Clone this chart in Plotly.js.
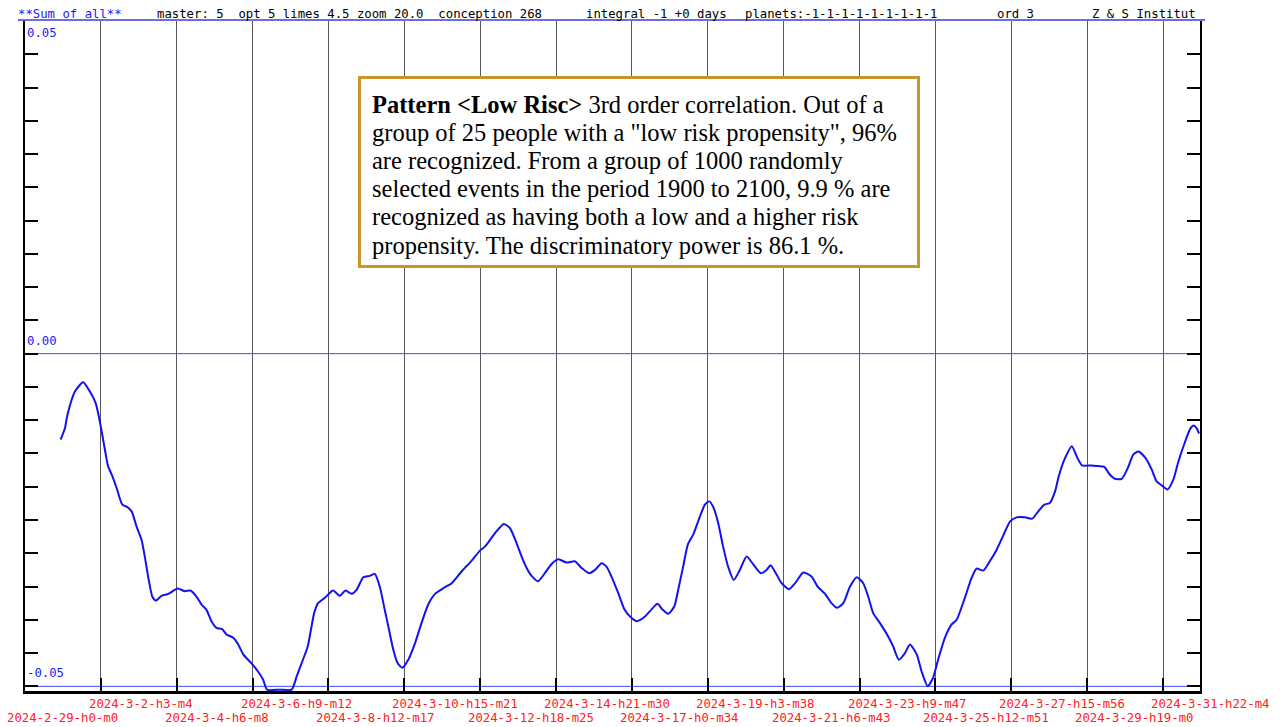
<!DOCTYPE html>
<html>
<head>
<meta charset="utf-8">
<script src="https://cdn.plot.ly/plotly-3.0.1.min.js"></script>
<style>
  html, body { margin: 0; padding: 0; background: #ffffff; }
  #chart { width: 1280px; height: 727px; }
</style>
</head>
<body>
<div id="chart"></div>
<script>
// ---------------- data ----------------
// x: days since 2024-02-29 00:00, y: sum of all
const days = [
  1.00,1.12,1.19,1.40,1.63,1.82,1.98,2.07,2.15,2.24,
  2.33,2.45,2.57,2.73,2.85,2.99,3.13,3.27,3.36,3.47,
  3.57,3.67,3.83,4.02,4.28,4.48,4.64,4.81,4.95,5.09,
  5.23,5.37,5.53,5.65,5.84,5.98,6.12,6.36,6.54,6.68,
  6.79,7.14,7.48,7.62,7.76,7.93,8.02,8.11,8.22,8.41,
  8.64,8.83,8.99,9.16,9.30,9.49,9.67,9.81,9.95,10.09,
  10.19,10.33,10.45,10.58,10.75,10.94,11.12,11.31,11.50,11.78,
  11.97,12.25,12.53,12.76,12.90,13.18,13.43,13.60,13.79,13.93,
  14.07,14.21,14.39,14.58,14.77,14.96,15.19,15.42,15.61,15.82,
  15.99,16.17,16.31,16.45,16.64,16.81,
  16.97,17.16,17.39,17.58,17.74,17.87,18.04,18.21,18.32,18.46,
  18.59,18.74,18.88,19.07,19.19,19.30,19.44,19.58,19.72,19.88,
  20.05,20.24,20.43,20.64,20.80,20.91,21.08,21.22,21.43,21.60,
  21.83,22.06,22.23,22.44,22.62,22.78,22.95,23.14,23.33,23.51,
  23.65,23.79,23.98,24.21,24.35,24.51,24.68,24.82,25.01,25.15,
  25.32,25.47,25.61,25.80,25.99,26.13,26.36,26.55,26.69,26.88,
  27.06,27.25,27.44,27.63,27.81,28.05,28.25,28.42,28.59,28.75,
  28.89,29.00,29.17,29.36,29.52,29.65,29.92,30.10,30.27,30.43,
  30.57,30.76,30.93,31.08,31.23,31.43,31.60,31.74,31.88,32.05,
  32.21,32.35,32.54,32.68,32.78,32.86,32.93
];
const sumOfAll = [
  -0.0129,-0.0112,-0.0092,-0.0057,-0.0043,-0.0057,-0.0074,-0.0094,-0.0117,-0.0144,
  -0.0169,-0.0184,-0.0202,-0.0227,-0.0230,-0.0237,-0.0260,-0.0280,-0.0305,-0.0340,
  -0.0365,-0.0371,-0.0364,-0.0361,-0.0353,-0.0357,-0.0356,-0.0365,-0.0377,-0.0385,
  -0.0402,-0.0412,-0.0414,-0.0422,-0.0427,-0.0437,-0.0452,-0.0466,-0.0478,-0.0490,
  -0.0505,-0.0505,-0.0505,-0.0485,-0.0465,-0.0440,-0.0415,-0.0390,-0.0375,-0.0367,
  -0.0356,-0.0364,-0.0356,-0.0361,-0.0355,-0.0336,-0.0334,-0.0331,-0.0350,-0.0385,
  -0.0410,-0.0445,-0.0465,-0.0472,-0.0460,-0.0435,-0.0405,-0.0377,-0.0361,-0.0351,
  -0.0345,-0.0327,-0.0311,-0.0296,-0.0290,-0.0270,-0.0256,-0.0262,-0.0285,-0.0305,
  -0.0322,-0.0334,-0.0342,-0.0330,-0.0316,-0.0309,-0.0314,-0.0312,-0.0322,-0.0330,
  -0.0325,-0.0315,-0.0320,-0.0335,-0.0360,-0.0384,
  -0.0395,-0.0402,-0.0395,-0.0384,-0.0376,-0.0384,-0.0391,-0.0380,-0.0355,-0.0320,
  -0.0287,-0.0272,-0.0252,-0.0227,-0.0222,-0.0230,-0.0254,-0.0290,-0.0320,-0.0340,
  -0.0325,-0.0305,-0.0317,-0.0330,-0.0325,-0.0318,-0.0332,-0.0345,-0.0354,-0.0345,
  -0.0329,-0.0335,-0.0350,-0.0361,-0.0375,-0.0382,-0.0375,-0.0350,-0.0336,-0.0345,
  -0.0365,-0.0390,-0.0405,-0.0425,-0.0440,-0.0460,-0.0450,-0.0437,-0.0452,-0.0478,
  -0.0500,-0.0487,-0.0460,-0.0427,-0.0407,-0.0400,-0.0367,-0.0337,-0.0323,-0.0326,
  -0.0312,-0.0295,-0.0273,-0.0252,-0.0246,-0.0246,-0.0248,-0.0237,-0.0227,-0.0224,
  -0.0207,-0.0183,-0.0157,-0.0139,-0.0157,-0.0168,-0.0168,-0.0169,-0.0170,-0.0182,
  -0.0188,-0.0188,-0.0172,-0.0152,-0.0147,-0.0157,-0.0174,-0.0192,-0.0198,-0.0204,
  -0.0189,-0.0162,-0.0132,-0.0113,-0.0108,-0.0112,-0.0120
];

const tickLabels = [
  '2024-2-29-h0-m0','2024-3-2-h3-m4','2024-3-4-h6-m8','2024-3-6-h9-m12',
  '2024-3-8-h12-m17','2024-3-10-h15-m21','2024-3-12-h18-m25','2024-3-14-h21-m30',
  '2024-3-17-h0-m34','2024-3-19-h3-m38','2024-3-21-h6-m43','2024-3-23-h9-m47',
  '2024-3-25-h12-m51','2024-3-27-h15-m56','2024-3-29-h19-m0','2024-3-31-h22-m4'
];
const yLabelValues = [0.05, 0.00, -0.05];
const yLabelTexts = ['0.05', '0.00', '-0.05'];
const refLineValues = [0.00, -0.05];

const headerTexts = [
  '**Sum of all**',
  'master: 5\u00a0\u00a0opt 5 limes 4.5 zoom 20.0\u00a0\u00a0conception 268',
  'integral -1 +0 days',
  'planets:-1-1-1-1-1-1-1-1-1',
  'ord 3',
  'Z & S Institut'
];
const noteLines = [
  '<b>Pattern &lt;Low Risc&gt;</b> 3rd order correlation. Out of a',
  'group of 25 people with a "low risk propensity", 96%',
  'are recognized. From a group of 1000 randomly',
  'selected events in the period 1900 to 2100, 9.9 % are',
  'recognized as having both a low and a higher risk',
  'propensity. The discriminatory power is 86.1 %.'
];

// ---------------- derived ----------------
const START = Date.UTC(2024, 1, 29, 0, 0);
function labelToDays(s) {
  const m = s.match(/^(\d+)-(\d+)-(\d+)-h(\d+)-m(\d+)$/);
  const t = Date.UTC(+m[1], +m[2] - 1, +m[3], +m[4], +m[5]);
  return (t - START) / 86400000;
}
const tickPos = tickLabels.map(labelToDays);

// layout geometry (pixels)
const W = 1280, H = 727;
const M = { l: 25, r: 80, t: 21, b: 36 };
const PW = W - M.l - M.r;
const PH = H - M.t - M.b;
const px2paperX = px => (px - M.l) / PW;
const px2paperY = py => (H - M.b - py) / PH;

const mono = 'DejaVu Sans Mono, monospace';
const annotations = [];

// x tick labels, two alternating rows, left aligned just before the tick
tickLabels.forEach((t, i) => {
  annotations.push({
    text: t, xref: 'x', x: tickPos[i], xanchor: 'left', xshift: i === 0 ? -20 : -14,
    yref: 'paper', y: 0, yanchor: 'middle', yshift: (i % 2 === 0) ? -27 : -13,
    showarrow: false, font: { family: mono, size: 12.3, color: '#ff2020' }
  });
});

// y labels
yLabelValues.forEach((v, i) => {
  annotations.push({
    text: yLabelTexts[i], xref: 'paper', x: 0, xanchor: 'left', xshift: 0,
    yref: 'y', y: v, yanchor: 'middle', yshift: (i === 0) ? -12 : 13,
    showarrow: false, font: { family: mono, size: 12.3, color: '#1a1aff' }
  });
});

// header
const headerX = [18, 157, 586, 745, 997, 1092];
headerTexts.forEach((t, i) => {
  annotations.push({
    text: t, xref: 'paper', x: px2paperX(headerX[i] - 2), xanchor: 'left',
    yref: 'paper', y: 1, yanchor: 'middle', yshift: 7,
    showarrow: false,
    font: { family: mono, size: 12.3, color: i === 0 ? '#1a1aff' : '#000000' }
  });
});

// note box: one annotation per line, frame drawn as a rectangle
const NOTE = { left: 358, right: 920, top: 76, bottom: 268, textX: 372, line0: 104, lineStep: 28.2 };
noteLines.forEach((t, i) => {
  annotations.push({
    text: t, xref: 'paper', x: px2paperX(NOTE.textX - 2), xanchor: 'left',
    yref: 'paper', y: px2paperY(NOTE.line0 + i * NOTE.lineStep), yanchor: 'middle',
    showarrow: false,
    font: { family: 'Liberation Serif, Times New Roman, serif', size: 24.5, color: '#000000' }
  });
});

const trace = {
  x: days, y: sumOfAll, type: 'scatter', mode: 'lines',
  line: { color: '#1212f0', width: 2, shape: 'spline', smoothing: 0.6 },
  hoverinfo: 'skip', showlegend: false
};

const shapes = [
  {
    type: 'line', xref: 'paper', yref: 'paper',
    x0: px2paperX(18), x1: px2paperX(1205), y0: px2paperY(20), y1: px2paperY(20),
    line: { color: '#3c3cd0', width: 1.5 }, layer: 'above'
  },
  {
    type: 'rect', xref: 'paper', yref: 'paper',
    x0: px2paperX(NOTE.left + 1.5), x1: px2paperX(NOTE.right - 1.5),
    y0: px2paperY(NOTE.top + 1.5), y1: px2paperY(NOTE.bottom - 1.5),
    line: { color: '#c9962b', width: 3 }, fillcolor: '#ffffff', layer: 'above'
  }
];
refLineValues.forEach(v => {
  shapes.push({
    type: 'line', xref: 'paper', yref: 'y', x0: 0, x1: 1, y0: v, y1: v,
    line: { color: '#4646ff', width: 1 }, layer: 'below'
  });
});

const layout = {
  width: W, height: H,
  margin: M,
  paper_bgcolor: '#ffffff', plot_bgcolor: '#ffffff',
  showlegend: false,
  xaxis: {
    range: [0, 32.956], tickvals: tickPos, showticklabels: false,
    ticks: 'inside', ticklen: 13, tickwidth: 2, tickcolor: '#000000',
    showgrid: true, gridcolor: '#5a5a5a', gridwidth: 1,
    showline: true, linecolor: '#000000', linewidth: 3,
    zeroline: false, fixedrange: true
  },
  xaxis2: {
    overlaying: 'x', matches: 'x', side: 'top', anchor: 'y',
    range: [0, 32.956], tickvals: tickPos, showticklabels: false,
    ticks: 'inside', ticklen: 14, tickwidth: 2, tickcolor: '#000000',
    showgrid: false, showline: false, zeroline: false
  },
  yaxis: {
    range: [-0.0507, 0.05], tick0: 0, dtick: 0.005,
    showticklabels: false,
    ticks: 'inside', ticklen: 13, tickwidth: 2, tickcolor: '#000000',
    showgrid: false, zeroline: false,
    showline: true, linecolor: '#000000', linewidth: 2,
    mirror: 'ticks', fixedrange: true
  },
  shapes: shapes,
  annotations: annotations
};

Plotly.newPlot('chart', [trace], layout, { staticPlot: true, displayModeBar: false });
</script>
</body>
</html>
